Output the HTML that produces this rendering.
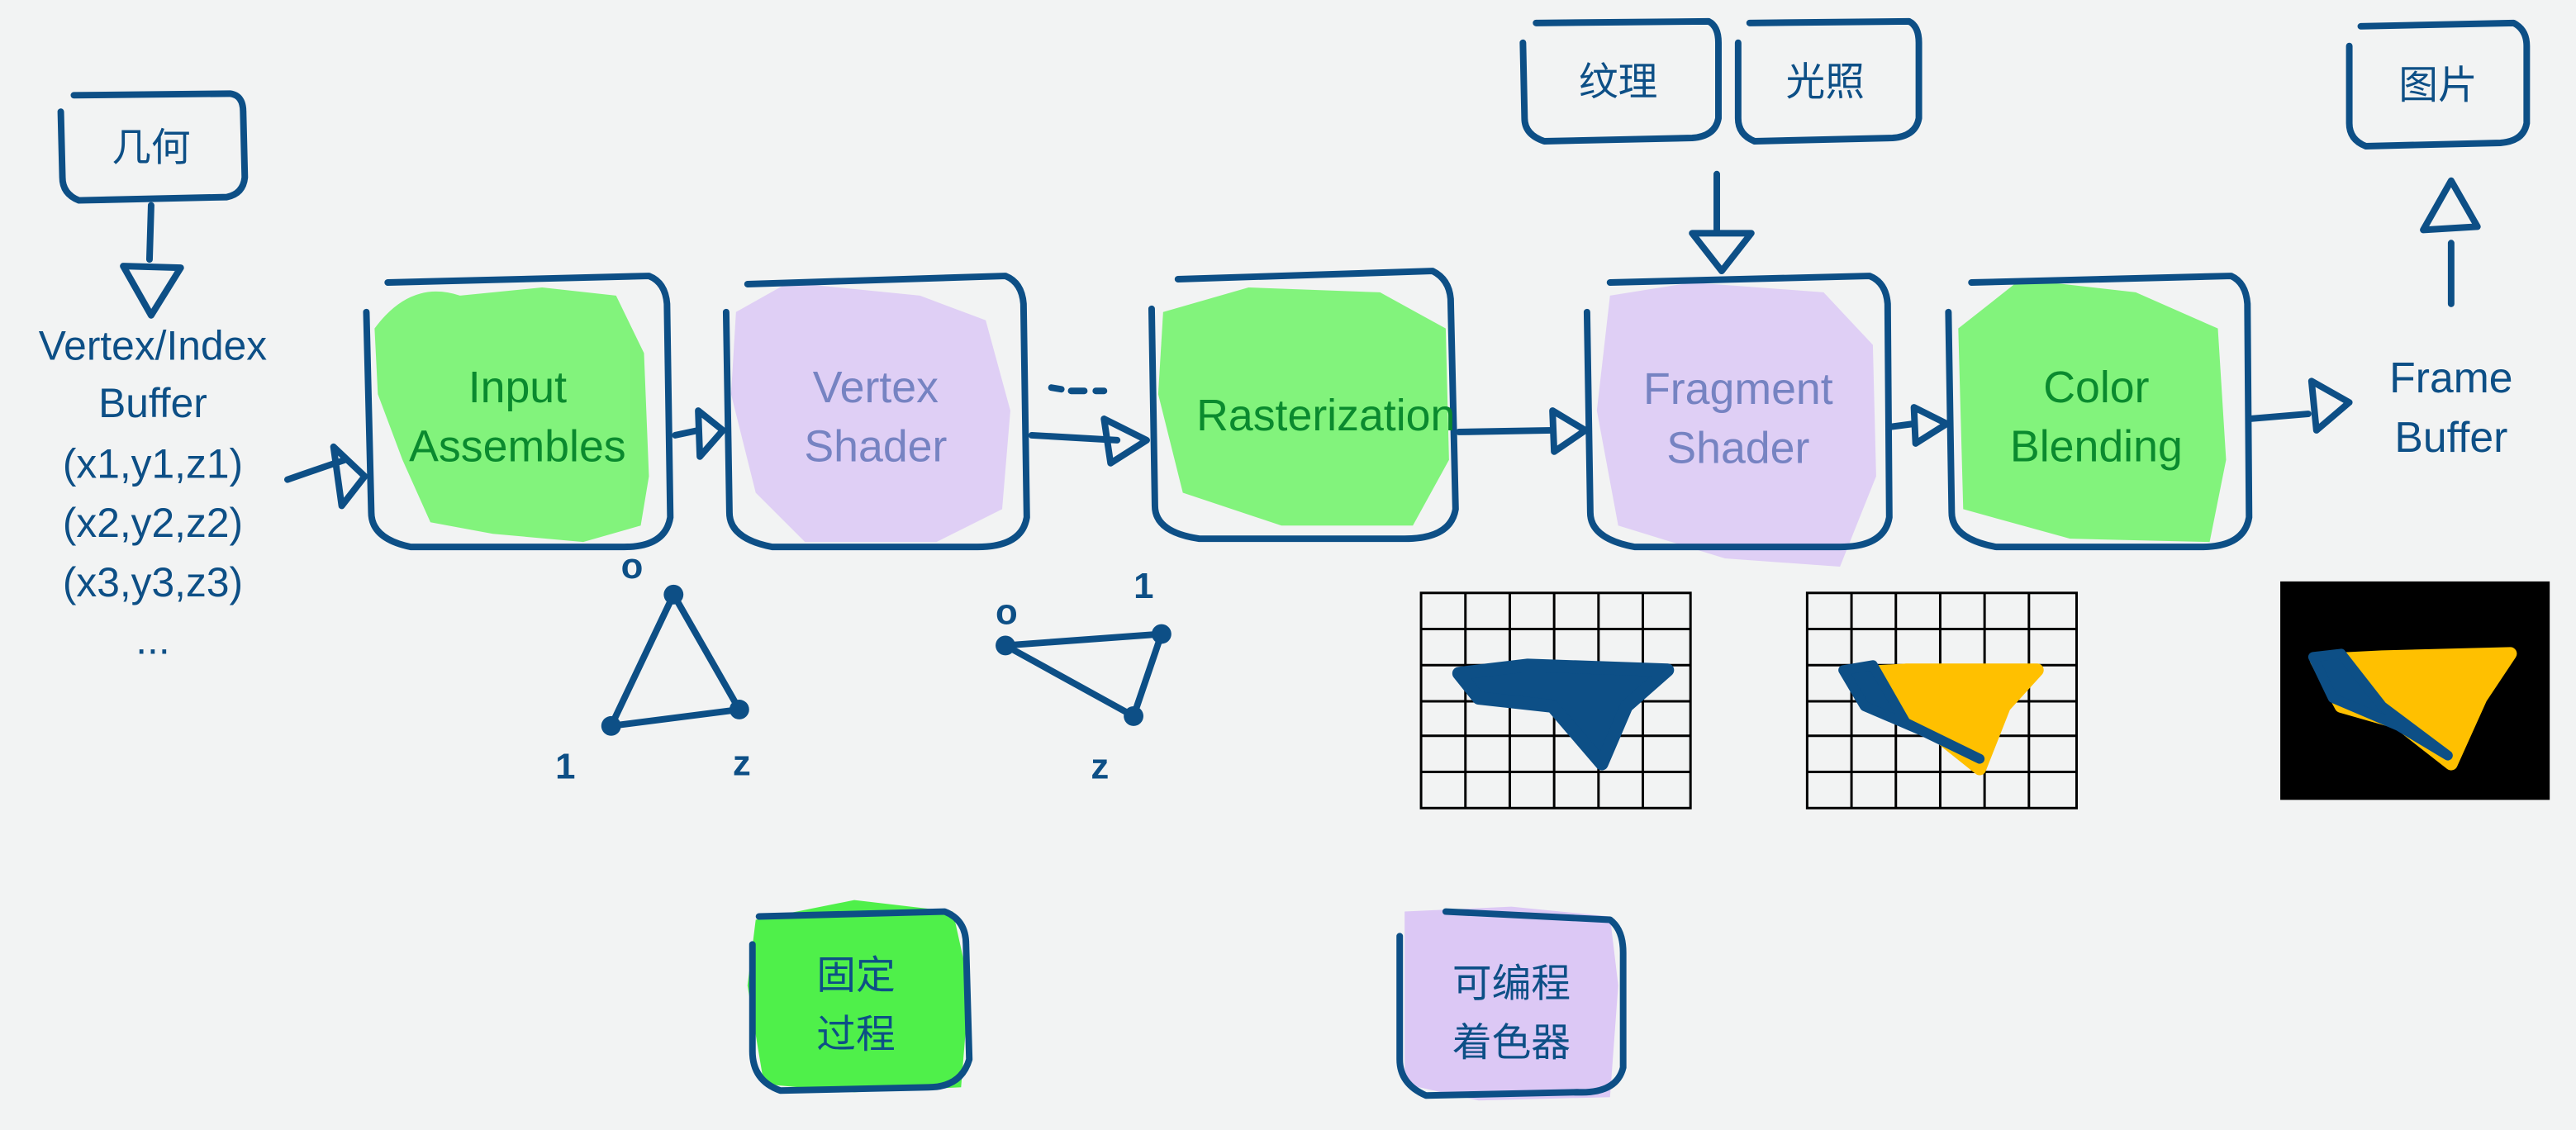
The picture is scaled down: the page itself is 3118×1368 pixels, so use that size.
<!DOCTYPE html>
<html><head><meta charset="utf-8"><style>
html,body{margin:0;padding:0;background:#f2f3f3;}
svg{display:block}
text{font-family:"Liberation Sans","Noto Sans CJK SC",sans-serif;}
</style></head><body>
<svg width="3118" height="1368" viewBox="0 0 1568 688" preserveAspectRatio="none" xmlns="http://www.w3.org/2000/svg">
<rect width="1568" height="688" fill="#f2f3f3"/>
<!-- fills -->
<g opacity="0.85">
<path d="M228 200 Q250 170 280 180 L330 175 L375 180 L392 215 L395 290 L390 320 L355 330 L300 325 L262 318 L245 280 L230 240 Z" fill="#6ef266"/>
<path d="M448 190 L480 172 L560 180 L600 195 L615 250 L610 310 L570 330 L490 330 L460 300 L445 240 Z" fill="#dcc8f5"/>
<path d="M708 190 L760 175 L840 178 L880 200 L882 280 L860 320 L780 320 L720 300 L705 240 Z" fill="#6ef266"/>
<path d="M980 180 L1030 172 L1110 178 L1140 210 L1142 290 L1120 345 L1050 340 L985 320 L972 250 Z" fill="#dcc8f5"/>
<path d="M1192 200 L1230 170 L1300 178 L1350 200 L1355 280 L1345 330 L1260 328 L1195 310 Z" fill="#6ef266"/>
<path d="M460 560 L520 548 L580 555 L590 600 L585 662 L520 665 L465 660 L455 600 Z" fill="#32ee2c"/>
<path d="M855 555 L920 552 L980 558 L985 600 L980 668 L900 670 L855 660 Z" fill="#d8c0f5"/>
</g>
<g fill="none" stroke="#0d4f86" stroke-width="4" stroke-linecap="round" stroke-linejoin="round">
<path d="M45 58 L140 57 Q148 58 148 68 L149 108 Q148 118 138 120 L48 122 Q38 118 38 108 L37 68"/>
<path d="M236 172 L395 168 Q405 172 406 185 L408 315 Q405 333 380 333 L250 333 Q226 328 226 312 L223 190"/>
<path d="M455 173 L612 168 Q622 172 623 185 L625 315 Q622 333 595 333 L470 333 Q444 328 444 312 L442 190"/>
<path d="M717 170 L872 165 Q882 170 883 182 L886 310 Q883 328 855 328 L730 328 Q703 324 703 308 L701 188"/>
<path d="M980 172 L1138 168 Q1148 172 1149 185 L1150 315 Q1147 333 1120 333 L995 333 Q968 328 968 312 L966 190"/>
<path d="M1200 172 L1358 168 Q1367 172 1368 185 L1369 315 Q1366 333 1340 333 L1215 333 Q1188 328 1188 312 L1186 190"/>
<path d="M935 14 L1040 13 Q1046 16 1046 26 L1046 72 Q1044 83 1030 84 L940 86 Q928 82 928 72 L927 26"/>
<path d="M1065 14 L1162 13 Q1168 16 1168 26 L1168 72 Q1166 83 1152 84 L1068 86 Q1058 82 1058 72 L1058 26"/>
<path d="M1437 16 L1530 14 Q1538 18 1538 28 L1538 75 Q1536 86 1522 87 L1440 89 Q1430 85 1430 75 L1430 28"/>
<path d="M462 558 L575 555 Q588 560 588 575 L590 645 Q585 662 565 662 L475 664 Q458 658 458 640 L458 575"/>
<path d="M880 555 L980 560 Q988 566 988 580 L988 650 Q984 666 960 665 L868 667 Q852 660 852 645 L852 570"/>
<path d="M92 125 L91 158"/><path d="M75 162 L110 163 L92 192 Z"/>
<path d="M175 292 Q195 285 210 280"/><path d="M203 272 L222 290 L208 308 Z"/>
<path d="M411 265 L425 262"/><path d="M425 250 L440 262 L426 278 Z"/>
<path d="M628 265 L680 268"/><path d="M672 255 L698 268 L676 282 Z"/>
<path d="M640 236 L646 237 M652 238 L660 238 M667 238 L672 238"/>
<path d="M888 263 L945 262"/><path d="M945 250 L965 262 L946 275 Z"/>
<path d="M1150 260 L1165 258"/><path d="M1165 248 L1185 258 L1166 270 Z"/>
<path d="M1369 255 L1405 252"/><path d="M1407 232 L1430 245 L1410 262 Z"/>
<path d="M1045 106 L1045 140"/><path d="M1030 142 L1066 142 L1048 165 Z"/>
<path d="M1492 185 L1492 148"/><path d="M1475 140 L1492 110 L1508 138 Z"/>
<path d="M410 362 L372 442 L450 432 Z"/>
<path d="M612 393 L707 386 L690 436 Z"/>
</g>
<g fill="#0d4f86"><circle cx="410" cy="362" r="6"/><circle cx="372" cy="442" r="6"/><circle cx="450" cy="432" r="6"/>
<circle cx="612" cy="393" r="6"/><circle cx="707" cy="386" r="6"/><circle cx="690" cy="436" r="6"/></g>
<g font-size="22" fill="#0d4f86" font-weight="bold"><text x="378" y="352">o</text><text x="338" y="474">1</text><text x="446" y="472">z</text>
<text x="606" y="380">o</text><text x="690" y="364">1</text><text x="664" y="474">z</text></g>
<g font-size="27" text-anchor="middle">
<text x="92" y="98" fill="#0d4f86" font-size="24">几何</text>
<g fill="#0d4f86" font-size="25"><text x="93" y="219">Vertex/Index</text><text x="93" y="254">Buffer</text><text x="93" y="291">(x1,y1,z1)</text><text x="93" y="327">(x2,y2,z2)</text><text x="93" y="363">(x3,y3,z3)</text><text x="93" y="398">...</text></g>
<g fill="#0a8a2e"><text x="315" y="245">Input</text><text x="315" y="281">Assembles</text><text x="807" y="262">Rasterization</text><text x="1276" y="245">Color</text><text x="1276" y="281">Blending</text></g>
<g fill="#7683c2"><text x="533" y="245">Vertex</text><text x="533" y="281">Shader</text><text x="1058" y="246">Fragment</text><text x="1058" y="282">Shader</text></g>
<g fill="#0d4f86" font-size="24"><text x="985" y="58">纹理</text><text x="1111" y="58">光照</text><text x="1484" y="60">图片</text><text x="521" y="602">固定</text><text x="521" y="638">过程</text><text x="920" y="607">可编程</text><text x="920" y="643">着色器</text></g>
<g fill="#0d4f86" font-size="26"><text x="1492" y="239">Frame</text><text x="1492" y="275">Buffer</text></g>
</g>
<g stroke="#000" stroke-width="1.5" fill="none">
<rect x="865" y="361" width="164" height="131"/>
<path d="M892 361V492M919 361V492M946 361V492M973 361V492M1000 361V492M865 383H1029M865 405H1029M865 427H1029M865 448H1029M865 470H1029"/>
<rect x="1100" y="361" width="164" height="131"/>
<path d="M1127 361V492M1154 361V492M1181 361V492M1208 361V492M1235 361V492M1100 383H1264M1100 405H1264M1100 427H1264M1100 448H1264M1100 470H1264"/>
</g>
<rect x="1388" y="354" width="164" height="133" fill="#000"/>
<g stroke-linecap="round" stroke-linejoin="round">
<path d="M888 410 L930 405 L1015 408 L990 430 L975 465 L945 430 L900 425 Z" fill="#0d4f86" stroke="#0d4f86" stroke-width="8"/>
<path d="M1125 410 L1160 408 L1240 408 L1220 430 L1205 468 L1170 440 Z" fill="#ffc000" stroke="#ffc000" stroke-width="8"/>
<path d="M1122 408 L1140 405 L1160 440 L1205 462 L1170 445 L1135 430 Z" fill="#0d4f86" stroke="#0d4f86" stroke-width="6"/>
<path d="M1410 402 L1450 400 L1528 398 L1510 425 L1492 465 L1460 440 L1425 430 Z" fill="#ffc000" stroke="#ffc000" stroke-width="8"/>
<path d="M1408 400 L1425 398 L1450 430 L1490 460 L1460 442 L1420 425 Z" fill="#0d4f86" stroke="#0d4f86" stroke-width="6"/>
</g>
</svg>
</body></html>
